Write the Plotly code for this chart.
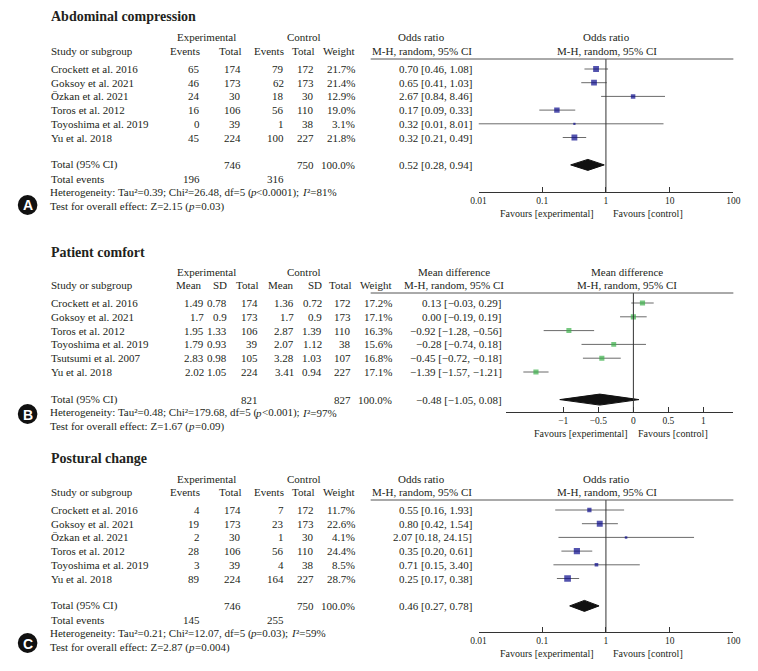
import math
import plotly.graph_objects as go

W, H = 758, 671
SERIF = "Liberation Serif"
TXT = "#231f20"

# ---------------- Data ----------------
# Panel A: Abdominal compression (odds ratio)
a_studies = ["Crockett et al. 2016", "Goksoy et al. 2021", "Özkan et al. 2021",
             "Toros et al. 2012", "Toyoshima et al. 2019", "Yu et al. 2018"]
a_exp_events = [65, 46, 24, 16, 0, 45]
a_exp_total = [174, 173, 30, 106, 39, 224]
a_ctl_events = [79, 62, 18, 56, 1, 100]
a_ctl_total = [172, 173, 30, 110, 38, 227]
a_weight = [21.7, 21.4, 12.9, 19.0, 3.1, 21.8]
a_est = [0.70, 0.65, 2.67, 0.17, 0.32, 0.32]
a_lo = [0.46, 0.41, 0.84, 0.09, 0.01, 0.21]
a_hi = [1.08, 1.03, 8.46, 0.33, 8.01, 0.49]
a_tot_n = [746, 750]
a_tot_events = [196, 316]
a_pooled = [0.52, 0.28, 0.94]
a_stats = ["0.39", "26.48", "5", "<0.0001", "81"]   # Tau², Chi², df, p, I²
a_effect = ["2.15", "=0.03"]                          # Z, p

# Panel B: Patient comfort (mean difference)
b_studies = ["Crockett et al. 2016", "Goksoy et al. 2021", "Toros et al. 2012",
             "Toyoshima et al. 2019", "Tsutsumi et al. 2007", "Yu et al. 2018"]
b_exp_mean = [1.49, 1.7, 1.95, 1.79, 2.83, 2.02]
b_exp_sd = [0.78, 0.9, 1.33, 0.93, 0.98, 1.05]
b_exp_total = [174, 173, 106, 39, 105, 224]
b_ctl_mean = [1.36, 1.7, 2.87, 2.07, 3.28, 3.41]
b_ctl_sd = [0.72, 0.9, 1.39, 1.12, 1.03, 0.94]
b_ctl_total = [172, 173, 110, 38, 107, 227]
b_weight = [17.2, 17.1, 16.3, 15.6, 16.8, 17.1]
b_est = [0.13, 0.00, -0.92, -0.28, -0.45, -1.39]
b_lo = [-0.03, -0.19, -1.28, -0.74, -0.72, -1.57]
b_hi = [0.29, 0.19, -0.56, 0.18, -0.18, -1.21]
b_tot_n = [821, 827]
b_pooled = [-0.48, -1.05, 0.08]
b_stats = ["0.48", "179.68", "5", "<0.001", "97"]
b_effect = ["1.67", "=0.09"]

# Panel C: Postural change (odds ratio)
c_studies = ["Crockett et al. 2016", "Goksoy et al. 2021", "Özkan et al. 2021",
             "Toros et al. 2012", "Toyoshima et al. 2019", "Yu et al. 2018"]
c_exp_events = [4, 19, 2, 28, 3, 89]
c_exp_total = [174, 173, 30, 106, 39, 224]
c_ctl_events = [7, 23, 1, 56, 4, 164]
c_ctl_total = [172, 173, 30, 110, 38, 227]
c_weight = [11.7, 22.6, 4.1, 24.4, 8.5, 28.7]
c_est = [0.55, 0.80, 2.07, 0.35, 0.71, 0.25]
c_lo = [0.16, 0.42, 0.18, 0.20, 0.15, 0.17]
c_hi = [1.93, 1.54, 24.15, 0.61, 3.40, 0.38]
c_tot_n = [746, 750]
c_tot_events = [145, 255]
c_pooled = [0.46, 0.27, 0.78]
c_stats = ["0.21", "12.07", "5", "=0.03", "59"]
c_effect = ["2.87", "=0.004"]

or_ticks = [0.01, 0.1, 1, 10, 100]
or_ticktext = ["0.01", "0.1", "1", "10", "100"]
md_ticks = [-1, -0.5, 0, 0.5, 1]
md_ticktext = ["\u22121", "\u22120.5", "0", "0.5", "1"]

# Times / Liberation Serif advance widths (per 1000 em) for laying out mixed-style lines
TW = {" ": 250, "(": 333, ")": 333, "%": 833, ",": 250, "-": 333, ".": 250, ":": 278,
      ";": 278, "<": 564, "=": 564, "\u00b2": 300, "C": 667, "H": 722, "I": 333,
      "T": 611, "Z": 611, "a": 444, "c": 444, "d": 500, "e": 444, "f": 333, "g": 500,
      "h": 500, "i": 278, "l": 278, "n": 500, "o": 500, "p": 500, "r": 333, "s": 389,
      "t": 278, "u": 500, "v": 500, "y": 500}


def text_width(s, size):
    return sum(TW.get(ch, 500) for ch in s) * size / 1000.0


# ---------------- Helpers ----------------
anns = []
shapes = []


def txt(x, y, s, anchor="left", size=11, color=TXT, family=SERIF, style="normal", pad=1):
    anns.append(dict(x=x / W, y=1 - y / H, xref="paper", yref="paper", text=s,
                     showarrow=False, xanchor=anchor, yanchor="middle",
                     borderpad=pad, borderwidth=0,
                     font=dict(family=family, size=size, color=color, style=style)))


def rich(x, y, segments, size=11):
    cx = x
    for s, ital in segments:
        txt(cx, y, s, size=size, style="italic" if ital else "normal", pad=0)
        cx += text_width(s, size) + 1.0


def het_line(x, y, st):
    tau, chi, df, p, i2 = st
    rich(x, y, [(f"Heterogeneity: Tau\u00b2={tau}; Chi\u00b2={chi}, df={df} (", False),
                ("p", True), (f"{p}); ", False), ("I", True), (f"\u00b2={i2}%", False)])


def effect_line(x, y, ef):
    z, p = ef
    rich(x, y, [(f"Test for overall effect: Z={z} (", False), ("p", True), (f"{p})", False)])


def fmt2(v):
    return f"{v:.2f}".replace("-", "\u2212")


def ci_text(e, lo, hi):
    return f"{fmt2(e)} [{fmt2(lo)}, {fmt2(hi)}]"


def circle_label(cx, cy, letter):
    r = 10
    shapes.append(dict(type="circle", xref="paper", yref="paper",
                       x0=(cx - r) / W, x1=(cx + r) / W,
                       y0=1 - (cy + r) / H, y1=1 - (cy - r) / H,
                       fillcolor="#111111", line=dict(width=0)))
    txt(cx, cy + 0.5, f"<b>{letter}</b>", anchor="center", size=14,
        color="white", family="Liberation Sans")


fig = go.Figure()

# panel geometry (pixels)
panels = {
    "A": dict(row0=69, dy=13.7, line_y=59, axis_y=192, ax="x", ay="y", x0=480, x1=740),
    "B": dict(row0=303, dy=13.8, line_y=293, axis_y=412, ax="x2", ay="y2", x0=508, x1=740),
    "C": dict(row0=510, dy=13.7, line_y=500, axis_y=632, ax="x3", ay="y3", x0=480, x1=740),
}


def rowy(p, i):
    return p["row0"] + p["dy"] * i


def forest(p, est, lo, hi, weight, pooled, color, log):
    xs, ys = [], []
    for i, (l, h) in enumerate(zip(lo, hi)):
        xs += [l, h, None]
        ys += [i, i, None]
    fig.add_trace(go.Scatter(x=xs, y=ys, mode="lines", xaxis=p["ax"], yaxis=p["ay"],
                             line=dict(color="#6b6b6b", width=1), hoverinfo="skip",
                             showlegend=False))
    fig.add_trace(go.Scatter(x=est, y=list(range(len(est))), mode="markers",
                             xaxis=p["ax"], yaxis=p["ay"],
                             marker=dict(symbol="square", color=color,
                                         size=[1.25 * math.sqrt(w) for w in weight],
                                         line=dict(width=0)),
                             showlegend=False))
    c, l, h = pooled
    ti = 7
    hh = 5.5 / p["dy"]
    fig.add_trace(go.Scatter(x=[l, c, h, c, l], y=[ti, ti - hh, ti, ti + hh, ti],
                             mode="lines", fill="toself", fillcolor="#111111",
                             line=dict(color="#111111", width=1),
                             xaxis=p["ax"], yaxis=p["ay"], showlegend=False))
    shapes.append(dict(type="line", xref=p["ax"], yref=p["ay"] + " domain",
                       x0=1 if log else 0, x1=1 if log else 0, y0=0, y1=1,
                       line=dict(color="#333333", width=1)))
    shapes.append(dict(type="line", xref="paper", yref="paper",
                       x0=370 / W, x1=740 / W, y0=1 - p["line_y"] / H,
                       y1=1 - p["line_y"] / H, line=dict(color="#555555", width=1)))


def or_panel(p, title, ty, h1, h2, studies, ee, et, ce, ct, wt, est, lo, hi,
             tot_n, tot_ev, pooled, stats, effect, fav_y, letter, ly):
    txt(43, ty, f"<b>{title}</b>", size=14)
    txt(203, h1, "Experimental", "center")
    txt(302, h1, "Control", "center")
    txt(422, h1, "Odds ratio", "center")
    txt(611, h1, "Odds ratio", "center")
    txt(43, h2, "Study or subgroup")
    for x, s in [(197, "Events"), (239, "Total"), (283, "Events"), (313, "Total"), (355, "Weight")]:
        txt(x, h2, s, "right")
    txt(422, h2, "M-H, random, 95% CI", "center")
    txt(611, h2, "M-H, random, 95% CI", "center")
    for i, st in enumerate(studies):
        y = rowy(p, i)
        txt(43, y, st)
        txt(197, y, str(ee[i]), "right")
        txt(239, y, str(et[i]), "right")
        txt(283, y, str(ce[i]), "right")
        txt(313, y, str(ct[i]), "right")
        txt(355, y, f"{wt[i]:.1f}%", "right")
        txt(474, y, ci_text(est[i], lo[i], hi[i]), "right")
    y = rowy(p, 7)
    txt(43, y, "Total (95% CI)")
    txt(239, y, str(tot_n[0]), "right")
    txt(313, y, str(tot_n[1]), "right")
    txt(355, y, "100.0%", "right")
    txt(474, y, ci_text(*pooled), "right")
    y = rowy(p, 8)
    txt(43, y, "Total events")
    txt(197, y, str(tot_ev[0]), "right")
    txt(283, y, str(tot_ev[1]), "right")
    het_line(43, rowy(p, 9), stats)
    effect_line(43, rowy(p, 10), effect)
    txt(550, fav_y, "Favours [experimental]", "center", size=10)
    txt(653, fav_y, "Favours [control]", "center", size=10)
    circle_label(20, ly, letter)
    forest(p, est, lo, hi, wt, pooled, "#0a0a8c", True)


# ---------------- Panel A ----------------
or_panel(panels["A"], "Abdominal compression", 17, 37, 51, a_studies, a_exp_events,
         a_exp_total, a_ctl_events, a_ctl_total, a_weight, a_est, a_lo, a_hi,
         a_tot_n, a_tot_events, a_pooled, a_stats, a_effect, 213, "A", 205)

# ---------------- Panel B ----------------
pB = panels["B"]
txt(43, 252, "<b>Patient comfort</b>", size=14)
txt(203, 272, "Experimental", "center")
txt(302, 272, "Control", "center")
txt(455, 272, "Mean difference", "center")
txt(632, 272, "Mean difference", "center")
txt(43, 285, "Study or subgroup")
for x, s in [(199, "Mean"), (224, "SD"), (256, "Total"), (293, "Mean"), (321, "SD"),
             (351, "Total"), (393, "Weight")]:
    txt(x, 285, s, "right")
txt(455, 285, "M-H, random, 95% CI", "center")
txt(632, 285, "M-H, random, 95% CI", "center")
for i, st in enumerate(b_studies):
    y = rowy(pB, i)
    txt(43, y, st)
    txt(201, y, f"{b_exp_mean[i]:g}", "right")
    txt(224, y, f"{b_exp_sd[i]:g}", "right")
    txt(256, y, str(b_exp_total[i]), "right")
    txt(293, y, f"{b_ctl_mean[i]:g}", "right")
    txt(321, y, f"{b_ctl_sd[i]:g}", "right")
    txt(351, y, str(b_ctl_total[i]), "right")
    txt(393, y, f"{b_weight[i]:.1f}%", "right")
    txt(505, y, ci_text(b_est[i], b_lo[i], b_hi[i]), "right")
y = rowy(pB, 7)
txt(43, y, "Total (95% CI)")
txt(256, y, str(b_tot_n[0]), "right")
txt(351, y, str(b_tot_n[1]), "right")
txt(393, y, "100.0%", "right")
txt(505, y, ci_text(*b_pooled), "right")
het_line(43, 413, b_stats)
effect_line(43, 426, b_effect)
txt(585, 433, "Favours [experimental]", "center", size=10)
txt(678, 433, "Favours [control]", "center", size=10)
circle_label(20, 414, "B")
forest(pB, b_est, b_lo, b_hi, b_weight, b_pooled, "#3cb04a", False)

# ---------------- Panel C ----------------
or_panel(panels["C"], "Postural change", 458, 479, 492, c_studies, c_exp_events,
         c_exp_total, c_ctl_events, c_ctl_total, c_weight, c_est, c_lo, c_hi,
         c_tot_n, c_tot_events, c_pooled, c_stats, c_effect, 653, "C", 643)

# ---------------- Axes ----------------
layout_axes = {}
for key, name_x, name_y, log, rng, tv, tt in [
    ("A", "xaxis", "yaxis", True, [-2, 2], or_ticks, or_ticktext),
    ("B", "xaxis2", "yaxis2", False, [(508 - 638) / 71.5, (740 - 638) / 71.5], md_ticks, md_ticktext),
    ("C", "xaxis3", "yaxis3", True, [-2, 2], or_ticks, or_ticktext),
]:
    p = panels[key]
    layout_axes[name_x] = dict(
        domain=[p["x0"] / W, p["x1"] / W], range=rng,
        type="log" if log else "linear",
        anchor=p["ay"], showline=True, linecolor="#333333", linewidth=1,
        ticks="inside", ticklen=5, tickcolor="#333333", tickwidth=1,
        tickvals=tv, ticktext=tt, showgrid=False, zeroline=False,
        tickfont=dict(family=SERIF, size=9.5, color=TXT), fixedrange=True)
    layout_axes[name_y] = dict(
        domain=[1 - p["axis_y"] / H, 1 - p["line_y"] / H],
        range=[(p["axis_y"] - p["row0"]) / p["dy"], (p["line_y"] - p["row0"]) / p["dy"]],
        anchor=p["ax"], visible=False, showgrid=False, zeroline=False, fixedrange=True)

fig.update_layout(
    width=W, height=H, autosize=False,
    margin=dict(l=0, r=0, t=0, b=0),
    paper_bgcolor="white", plot_bgcolor="white",
    showlegend=False, annotations=anns, shapes=shapes, hovermode=False,
    **layout_axes,
)

fig.write_html("out.html", config={"displayModeBar": False},
               post_script="document.body.style.margin='0';")
